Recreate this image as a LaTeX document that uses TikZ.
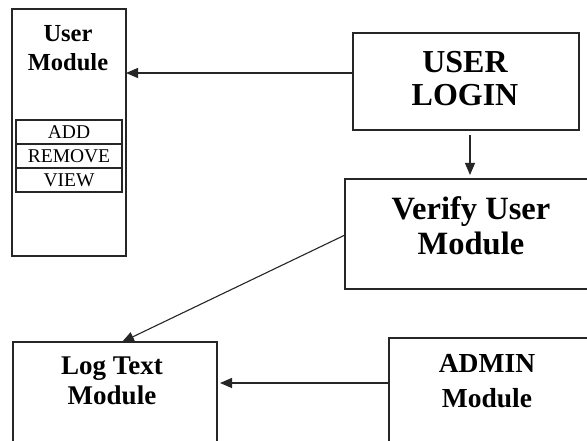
\documentclass[tikz,border=0pt]{standalone}
\usepackage{fontspec}
\setmainfont{Liberation Serif}
\usetikzlibrary{arrows.meta}
\tikzset{
  box/.style={draw=black!85, line width=1.1pt, anchor=north west, inner sep=0pt, outer sep=0pt},
  cell/.style={draw=black!85, line width=1.1pt, minimum width=106pt, minimum height=24pt,
               inner sep=0pt, outer sep=0pt, font=\fontsize{19.5}{20}\selectfont},
  title/.style={align=center, inner sep=0pt, font=\bfseries},
  arr/.style={draw=black!85, line width=1.1pt, -{Triangle[length=12pt,width=10pt]}}
}
\begin{document}
\begin{tikzpicture}[x=1pt,y=-1pt]
\useasboundingbox (0,0) rectangle (587,441);
\clip (0,0) rectangle (587,441);
\fill[white] (0,0) rectangle (587,441);

% user module with its operations table
\node[box, minimum width=114pt, minimum height=247pt] (user) at (12,9) {};
\node[title, font=\bfseries\fontsize{24.5}{29}\selectfont] (usert) at (68,48) {User\\Module};
\node[cell] (add) at (69,132) {ADD};
\node[cell, anchor=north] (remove) at (add.south) {REMOVE};
\node[cell, anchor=north] (view) at (remove.south) {VIEW};

% login
\node[box, minimum width=226pt, minimum height=97pt] (login) at (353,33) {};
\node[title, font=\bfseries\fontsize{32}{33}\selectfont] (logint) at (465,79) {USER\\LOGIN};

% verify
\node[box, minimum width=260pt, minimum height=110pt] (verify) at (345,179) {};
\node[title, font=\bfseries\fontsize{32.5}{35}\selectfont] (verifyt) at (471,226) {Verify User\\Module};

% log text
\node[box, minimum width=204pt, minimum height=120pt] (log) at (13,342) {};
\node[title, font=\bfseries\fontsize{27}{30}\selectfont] (logt) at (112,381) {Log Text\\Module};

% admin
\node[box, minimum width=220pt, minimum height=120pt] (admin) at (389,338) {};
\node[title, font=\bfseries\fontsize{27.5}{35}\selectfont] (admint) at (487,381) {ADMIN\\Module};

% connectors
\coordinate (lw) at ([yshift=8.5pt]login.west);
\draw[arr] (lw) -- (lw -| user.east);
\coordinate (ls) at (470,130);
\draw[arr, shorten <=5pt, shorten >=4pt] (ls) -- (ls |- verify.north);
\coordinate (vw) at (345,235);
\coordinate (lt) at (122,342);
\draw[arr] (vw) -- (lt);
\coordinate (aw) at (389,383);
\draw[arr, shorten >=3pt] (aw) -- (aw -| log.east);
\end{tikzpicture}
\end{document}
